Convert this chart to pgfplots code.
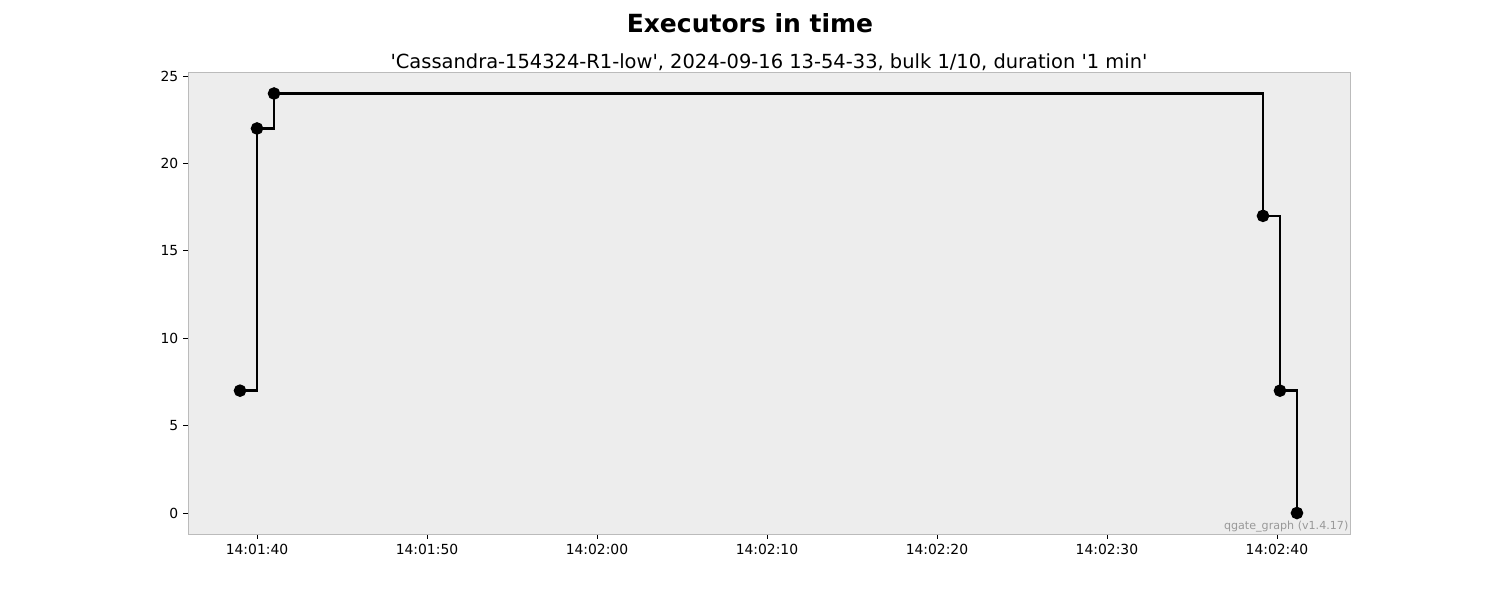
\documentclass[border=0pt]{standalone}
\usepackage{fontspec}
\setmainfont{DejaVu Sans}[Ligatures=TeXOff]
\usepackage{pgfplots}
\pgfplotsset{compat=1.18}
\definecolor{bgc}{HTML}{EDEDED}
\definecolor{framec}{HTML}{BBBBBB}
\begin{document}
\begin{tikzpicture}
\useasboundingbox (0,0) rectangle (1080pt,432pt);
\node[font=\fontsize{18}{21}\selectfont\bfseries] at (540pt,415.4pt) {Executors in time};
\node[font=\fontsize{14}{17}\selectfont] at (553.7pt,387.4pt) {'Cassandra-154324-R1-low', 2024-09-16 13-54-33, bulk 1/10, duration '1 min'};
\begin{axis}[
  at={(135.36pt,47.52pt)}, anchor=south west,
  scale only axis, width=836.64pt, height=332.64pt,
  xmin=35.94, xmax=104.3, ymin=-1.2, ymax=25.23,
  axis background/.style={fill=bgc},
  axis line style={framec, line width=0.6pt},
  tick style={black, line width=0.6pt},
  tick align=outside, major tick length=3.5pt,
  xtick={40,50,60,70,80,90,100},
  xticklabels={14:01:40,14:01:50,14:02:00,14:02:10,14:02:20,14:02:30,14:02:40},
  ytick={0,5,10,15,20,25},
  xtick pos=bottom, ytick pos=left,
  ticklabel style={font=\fontsize{10}{12}\selectfont},
  /pgf/number format/assume math mode=true,
  clip=false,
]
\addplot[const plot, black, line width=1.8pt, mark=*, mark size=3.6pt, mark options={solid, fill=black}]
  coordinates {(39,7) (40,22) (41,24) (99.18,17) (100.18,7) (101.18,0)};
\node[anchor=south east, inner sep=1pt, text=gray!80, font=\fontsize{8}{9}\selectfont] at (rel axis cs:1,0) {qgate\_graph (v1.4.17)};
\end{axis}
\end{tikzpicture}
\end{document}
